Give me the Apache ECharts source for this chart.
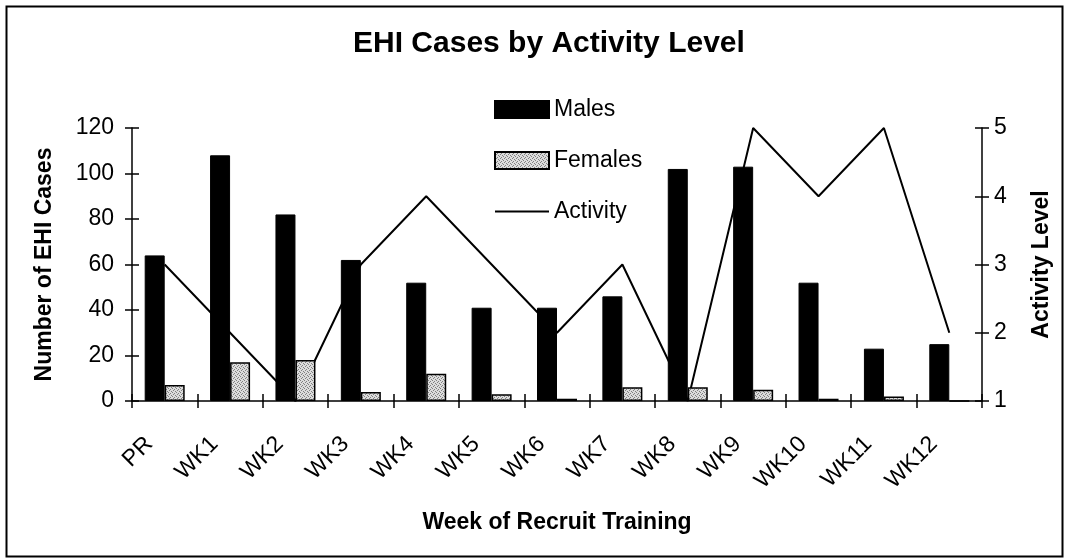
<!DOCTYPE html>
<html>
<head>
<meta charset="utf-8">
<script src="https://cdn.jsdelivr.net/npm/echarts@6/dist/echarts.min.js"></script>
<style>
html,body{margin:0;padding:0;background:#fff;}
#c{width:1065px;height:559px;}
</style>
</head>
<body>
<div id="c"></div>
<script>
var categories = ['PR','WK1','WK2','WK3','WK4','WK5','WK6','WK7','WK8','WK9','WK10','WK11','WK12'];
var males = [64,108,82,62,52,41,41,46,102,103,52,23,25];
var females = [7,17,18,4,12,3,1,6,6,5,1,2,0];
var activity = [3,2,1,3,4,3,2,3,1,5,4,5,2];
var leftTicks = {min:0, max:120, interval:20};
var rightTicks = {min:1, max:5, interval:1};

// stipple pattern for the Females fill
var pc = document.createElement('canvas');
pc.width = 4; pc.height = 4;
var px = pc.getContext('2d');
px.fillStyle = '#dcdcdc'; px.fillRect(0,0,4,4);
px.fillStyle = '#808080';
[[0,0],[2,1],[1,2],[3,3]].forEach(function(p){px.fillRect(p[0],p[1],1,1);});
var pattern = {image: pc, repeat: 'repeat'};

var FONT = '"Liberation Sans", Arial, sans-serif';
var chart = echarts.init(document.getElementById('c'));
var tickLen = 7;
var axisLineStyle = {color:'#000', width:1.5};

chart.setOption({
  animation: false,
  textStyle: {fontFamily: FONT, color:'#000'},
  title: {
    text: 'EHI Cases by Activity Level',
    left: 348, top: 24,
    textStyle: {fontFamily: FONT, fontSize: 30, fontWeight: 'bold', color:'#000'}
  },
  legend: {
    orient: 'vertical', left: 494, top: 98, padding: 0,
    itemWidth: 54, itemHeight: 17, itemGap: 28,
    textStyle: {fontFamily: FONT, fontSize: 23, color:'#000'},
    data: [
      {name:'Males', icon:'rect'},
      {name:'Females', icon:'rect'},
      {name:'Activity', icon:'path://M0,0H54V2H0Z'}
    ]
  },
  graphic: [{
    type: 'rect', left: 4, top: 4,
    shape: {width: 1056, height: 550},
    style: {fill: 'none', stroke: '#000', lineWidth: 2}
  }],
  grid: {left: 132, right: 83, top: 128, bottom: 158},
  xAxis: [{
    type: 'category', data: categories,
    axisLine: {lineStyle: axisLineStyle},
    axisTick: {show: true, length: tickLen, lineStyle: {color:'#000', width:1.5}},
    axisLabel: {rotate: 45, fontSize: 23, color:'#000', margin: 24, padding: [0, 22, 0, 0], fontFamily: FONT, interval: 0},
    name: 'Week of Recruit Training', nameLocation: 'middle', nameGap: 110,
    nameTextStyle: {fontSize: 23, fontWeight:'bold', color:'#000', fontFamily: FONT}
  },{
    type: 'category', data: categories, position: 'bottom',
    axisLine: {show: false},
    axisTick: {show: true, inside: true, length: tickLen, lineStyle: {color:'#000', width:1.5}},
    axisLabel: {show: false}
  }],
  yAxis: [{
    type: 'value', position: 'left',
    min: leftTicks.min, max: leftTicks.max, interval: leftTicks.interval,
    splitLine: {show: false},
    axisLine: {show: true, lineStyle: axisLineStyle},
    axisTick: {show: true, length: tickLen, lineStyle: {color:'#000', width:1.5}},
    axisLabel: {fontSize: 23, color:'#000', margin: 18, fontFamily: FONT},
    name: 'Number of EHI Cases', nameLocation: 'middle', nameGap: 76, nameRotate: 90,
    nameTextStyle: {fontSize: 23, fontWeight:'bold', color:'#000', fontFamily: FONT}
  },{
    type: 'value', position: 'right',
    min: rightTicks.min, max: rightTicks.max, interval: rightTicks.interval,
    splitLine: {show: false},
    axisLine: {show: true, lineStyle: axisLineStyle},
    axisTick: {show: true, length: tickLen, lineStyle: {color:'#000', width:1.5}},
    axisLabel: {fontSize: 23, color:'#000', margin: 12, fontFamily: FONT},
    name: 'Activity Level', nameLocation: 'middle', nameGap: 48, nameRotate: 90,
    nameTextStyle: {fontSize: 23, fontWeight:'bold', color:'#000', fontFamily: FONT}
  },{
    type: 'value', position: 'left',
    min: leftTicks.min, max: leftTicks.max, interval: leftTicks.interval,
    splitLine: {show: false}, axisLine: {show: false},
    axisTick: {show: true, inside: true, length: tickLen, lineStyle: {color:'#000', width:1.5}},
    axisLabel: {show: false}
  },{
    type: 'value', position: 'right',
    min: rightTicks.min, max: rightTicks.max, interval: rightTicks.interval,
    splitLine: {show: false}, axisLine: {show: false},
    axisTick: {show: true, inside: true, length: tickLen, lineStyle: {color:'#000', width:1.5}},
    axisLabel: {show: false}
  }],
  series: [{
    name: 'Males', type: 'bar', data: males, xAxisIndex: 0, yAxisIndex: 0,
    barWidth: 20, barGap: '0%',
    itemStyle: {color: '#000', borderColor:'#000', borderWidth: 1}
  },{
    name: 'Females', type: 'bar', data: females, xAxisIndex: 0, yAxisIndex: 0,
    barWidth: 20, barGap: '0%',
    itemStyle: {color: pattern, borderColor:'#000', borderWidth: 1.5}
  },{
    name: 'Activity', type: 'line', data: activity, xAxisIndex: 0, yAxisIndex: 1,
    symbol: 'none', showSymbol: false, z: 1,
    lineStyle: {color:'#000', width: 2},
    itemStyle: {color:'#000'}
  }]
});
</script>
</body>
</html>
